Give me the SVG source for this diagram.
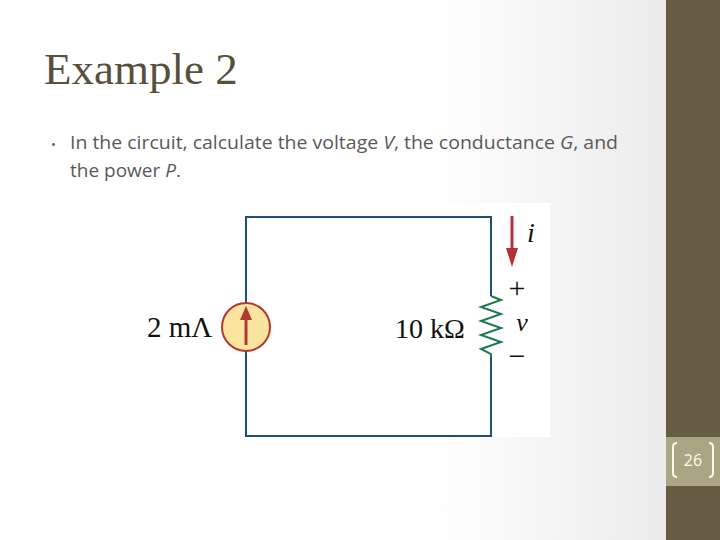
<svg xmlns="http://www.w3.org/2000/svg" width="720" height="540" viewBox="0 0 720 540">
<defs>
<linearGradient id="bg" x1="0" y1="0" x2="1" y2="0">
<stop offset="0" stop-color="#ffffff"/><stop offset="0.6" stop-color="#ffffff"/><stop offset="1" stop-color="#e6e6e6"/>
</linearGradient>
<style>
.w{stroke:#1f4e79;stroke-width:2;fill:none}
.s{font-family:"Liberation Serif",serif;fill:#111}
</style>
</defs>
<rect width="720" height="540" fill="url(#bg)"/>
<rect x="666" y="0" width="54" height="540" fill="#675d45"/>
<rect x="666" y="437" width="54" height="49" fill="#aaa684"/>
<g id="pagenum" fill="none" stroke="#fffbe8" stroke-width="2">
<path d="M677,443 q-4,0 -4,4 v26 q0,4 4,4"/>
<path d="M709,443 q4,0 4,4 v26 q0,4 -4,4"/>
</g>
<text x="693" y="466" font-family="Open Sans,sans-serif" font-size="16" fill="#fffbe8" text-anchor="middle">26</text>
<text x="44" y="84" font-family="Liberation Serif,serif" font-size="45" fill="#584f3c">Example 2</text>
<text font-family="Open Sans,sans-serif" font-size="19" fill="#595959">
<tspan x="51" y="149" font-size="13">•</tspan><tspan x="70" y="149" textLength="548" lengthAdjust="spacingAndGlyphs">In the circuit, calculate the voltage <tspan font-style="italic">V</tspan>, the conductance <tspan font-style="italic">G</tspan>, and</tspan>
<tspan x="70" y="177">the power <tspan font-style="italic">P</tspan>.</tspan>
</text>
<rect x="237" y="203" width="313" height="234" fill="#ffffff"/>
<g id="connectors">
<path class="w" d="M246,303 V217 H491 V296 M491,357 V436 H246 V351"/>
</g>
<g id="source">
<circle cx="246" cy="327" r="24" fill="#fbe3a0" stroke="#b03a2e" stroke-width="2"/>
<line x1="246" y1="345" x2="246" y2="318" stroke="#b03a2e" stroke-width="3"/>
<polygon points="246,306 240,320 252,320" fill="#b03a2e"/>
<text class="s" x="147" y="337" font-size="29">2 mΛ</text>
</g>
<g id="resistor">
<polyline points="491,296 501,300 481,307 501,314 481,321 501,328 481,335 501,342 481,349 491,354 491,357" fill="none" stroke="#1e7a4c" stroke-width="2"/>
<text class="s" x="395" y="338" font-size="28">10 kΩ</text>
</g>
<g id="labels">
<line x1="512" y1="216" x2="512" y2="250" stroke="#b5313a" stroke-width="3"/>
<polygon points="506,248 518,248 512,267" fill="#b5313a"/>
<text class="s" x="527" y="242" font-size="28" font-style="italic">i</text>
<text class="s" x="517" y="298" font-size="30" text-anchor="middle">+</text>
<text class="s" x="522" y="331" font-size="26" font-style="italic" text-anchor="middle">v</text>
<text class="s" x="517" y="366" font-size="30" text-anchor="middle">−</text>
</g>
</svg>
